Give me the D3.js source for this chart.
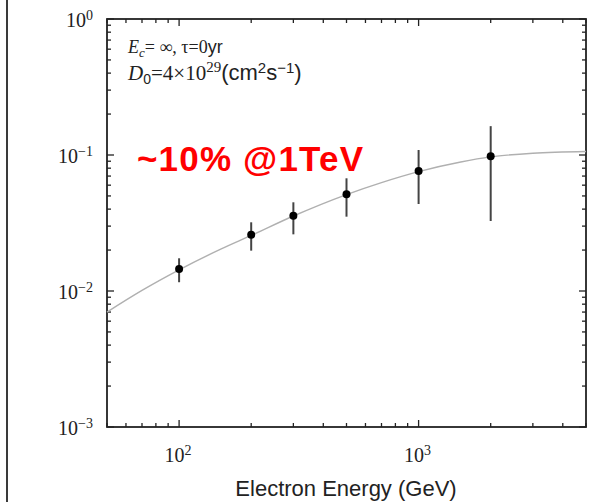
<!DOCTYPE html>
<html>
<head>
<meta charset="utf-8">
<script src="https://d3js.org/d3.v7.min.js"></script>
<style>
  body { margin: 0; background: white; }
  svg { display: block; }
</style>
</head>
<body>
<div id="chart"></div>
<script>
var width = 589, height = 502;

// measured points (electron energy in GeV)
var energy = [100, 200, 300, 500, 1000, 2000];
var aniso = [0.0145, 0.0259, 0.0358, 0.0514, 0.0762, 0.0977];
var errLow = [0.0116, 0.0198, 0.0261, 0.0352, 0.0436, 0.0327];
var errHigh = [0.0174, 0.0320, 0.0449, 0.0674, 0.1088, 0.163];

// model curve
var curveE = [50, 70, 100, 150, 200, 300, 500, 700, 1000, 1500, 2000, 3000, 5000];
var curveA = [0.0070, 0.0101, 0.0143, 0.0204, 0.0256, 0.0356, 0.0512, 0.0627, 0.0755, 0.0888, 0.0968, 0.1030, 0.1060];

var xTickLabels = [{v: 100, exp: "2"}, {v: 1000, exp: "3"}];
var yTickLabels = [{v: 1, exp: "0"}, {v: 0.1, exp: "\u22121"}, {v: 0.01, exp: "\u22122"}, {v: 0.001, exp: "\u22123"}];

var plotL = 107, plotR = 586, plotT = 19, plotB = 427;

var x = d3.scaleLog().domain([50, 5000]).range([plotL, plotR]);
var y = d3.scaleLog().domain([1e-3, 1]).range([plotB, plotT]);

var svg = d3.select("#chart").append("svg")
    .attr("width", width)
    .attr("height", height);

// slide edge on the left
svg.append("line")
    .attr("x1", 7).attr("x2", 7).attr("y1", 0).attr("y2", height)
    .attr("stroke", "#3a3a3a").attr("stroke-width", 2);

// y title, mostly cut off in the original
var clip = svg.append("clipPath").attr("id", "ytclip");
clip.append("rect").attr("x", 27).attr("y", 120).attr("width", 4).attr("height", 190);
svg.append("text")
    .attr("clip-path", "url(#ytclip)")
    .attr("transform", "translate(34,215) rotate(-90)")
    .attr("text-anchor", "middle")
    .style("font-family", "Liberation Sans, Arial, sans-serif")
    .style("font-size", "19px")
    .attr("fill", "#333")
    .text("Anisotropy \u03b4 (dipole)");

var isMajor = function(d) {
  var l = Math.log10(d);
  return Math.abs(l - Math.round(l)) < 1e-6;
};

var xTicks = x.ticks();
var yTicks = y.ticks();

function tickLen(d) { return isMajor(d) ? 7 : 4; }

var axes = svg.append("g").attr("stroke", "#222").attr("stroke-width", 1.3);

// bottom + top ticks
xTicks.forEach(function(d) {
  axes.append("line").attr("x1", x(d)).attr("x2", x(d))
      .attr("y1", plotB).attr("y2", plotB - tickLen(d));
  axes.append("line").attr("x1", x(d)).attr("x2", x(d))
      .attr("y1", plotT).attr("y2", plotT + tickLen(d));
});
// left + right ticks
yTicks.forEach(function(d) {
  axes.append("line").attr("y1", y(d)).attr("y2", y(d))
      .attr("x1", plotL).attr("x2", plotL + tickLen(d));
  axes.append("line").attr("y1", y(d)).attr("y2", y(d))
      .attr("x1", plotR).attr("x2", plotR - tickLen(d));
});

svg.append("rect")
    .attr("x", plotL).attr("y", plotT)
    .attr("width", plotR - plotL).attr("height", plotB - plotT)
    .attr("fill", "none").attr("stroke", "#222").attr("stroke-width", 1.8);

// tick labels
var serif = "Liberation Serif, Times New Roman, serif";
var sans = "Liberation Sans, Arial, Helvetica, sans-serif";

xTickLabels.forEach(function(d) {
  var t = svg.append("text")
      .attr("x", x(d.v) - 1).attr("y", 462)
      .attr("text-anchor", "middle")
      .style("font-family", serif).style("font-size", "20px").attr("fill", "#222");
  t.append("tspan").text("10");
  t.append("tspan").attr("dy", -7).style("font-size", "14px").text(d.exp);
});

yTickLabels.forEach(function(d) {
  var t = svg.append("text")
      .attr("x", 93).attr("y", y(d.v) + 8)
      .attr("text-anchor", "end")
      .style("font-family", serif).style("font-size", "20px").attr("fill", "#222");
  t.append("tspan").text("10");
  t.append("tspan").attr("dy", -7).style("font-size", "14px").text(d.exp);
});

svg.append("text")
    .attr("x", 346).attr("y", 496)
    .attr("text-anchor", "middle")
    .style("font-family", sans).style("font-size", "22px").attr("fill", "#222")
    .text("Electron Energy (GeV)");

// model curve
var curvePts = curveE.map(function(e, i) { return [e, curveA[i]]; });
var line = d3.line()
    .x(function(d) { return x(d[0]); })
    .y(function(d) { return y(d[1]); })
    .curve(d3.curveMonotoneX);

svg.append("path")
    .datum(curvePts)
    .attr("d", line)
    .attr("fill", "none")
    .attr("stroke", "#b0b0b0")
    .attr("stroke-width", 1.4);

// error bars and points
var pts = energy.map(function(e, i) {
  return {e: e, a: aniso[i], lo: errLow[i], hi: errHigh[i]};
});

svg.append("g").selectAll("line")
    .data(pts).enter().append("line")
    .attr("x1", function(d) { return x(d.e); })
    .attr("x2", function(d) { return x(d.e); })
    .attr("y1", function(d) { return y(d.lo); })
    .attr("y2", function(d) { return y(d.hi); })
    .attr("stroke", "#444")
    .attr("stroke-width", 2);

svg.append("g").selectAll("circle")
    .data(pts).enter().append("circle")
    .attr("cx", function(d) { return x(d.e); })
    .attr("cy", function(d) { return y(d.a); })
    .attr("r", 4)
    .attr("fill", "black");

// legend text
var l1 = svg.append("text").attr("x", 128).attr("y", 53)
    .style("font-family", serif).style("font-size", "18px").attr("fill", "#222");
l1.append("tspan").style("font-style", "italic").text("E");
l1.append("tspan").style("font-style", "italic").style("font-size", "13px").attr("dy", 4).text("c");
l1.append("tspan").attr("dy", -4).text("= \u221e, \u03c4=0");
l1.append("tspan").style("font-family", sans).style("font-size", "18px").text("yr");

var l2 = svg.append("text").attr("x", 128).attr("y", 80)
    .style("font-family", serif).style("font-size", "21px").attr("fill", "#222");
l2.append("tspan").style("font-style", "italic").text("D");
l2.append("tspan").style("font-family", sans).style("font-size", "14px").attr("dy", 4).text("0");
l2.append("tspan").attr("dy", -4).text("=4\u00d710");
l2.append("tspan").style("font-size", "15px").attr("dy", -8).text("29");
l2.append("tspan").style("font-family", sans).style("font-size", "22px").attr("dy", 8).text("(cm");
l2.append("tspan").style("font-family", sans).style("font-size", "15px").attr("dy", -7).text("2");
l2.append("tspan").style("font-family", sans).style("font-size", "22px").attr("dy", 7).text("s");
l2.append("tspan").style("font-family", sans).style("font-size", "15px").attr("dy", -7).text("\u22121");
l2.append("tspan").style("font-family", sans).style("font-size", "22px").attr("dy", 7).text(")");

// red annotation
svg.append("text")
    .attr("x", 137).attr("y", 171)
    .attr("textLength", 226)
    .style("font-family", sans).style("font-weight", "bold").style("font-size", "35px")
    .attr("fill", "#ff0000")
    .text("~10% @1TeV");
</script>
</body>
</html>
